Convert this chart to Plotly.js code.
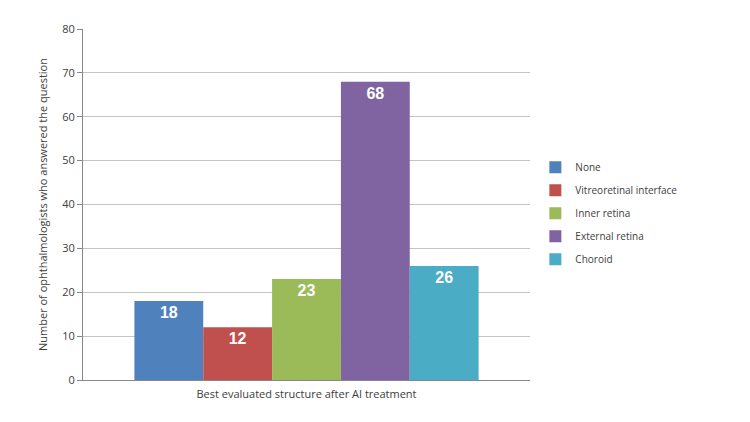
<!DOCTYPE html>
<html><head><meta charset="utf-8">
<script src="https://cdn.plot.ly/plotly-3.0.1.min.js"></script>
<style>html,body{margin:0;padding:0;background:#fff}</style>
</head><body>
<div id="chart" style="width:750px;height:422px"></div>
<script>
const category = ["Best evaluated structure after AI treatment"];
const seriesNames = ["None", "Vitreoretinal interface", "Inner retina", "External retina", "Choroid"];
const seriesValues = [18, 12, 23, 68, 26];
const seriesColors = ["#4F81BD", "#C0504D", "#9BBB59", "#8064A2", "#4BACC6"];
const yTicks = [0, 10, 20, 30, 40, 50, 60, 70, 80];

const traces = seriesNames.map((name, i) => ({
  type: "bar",
  name: name,
  legendgroup: "g" + i,
  x: category,
  y: [seriesValues[i]],
  text: [String(seriesValues[i])],
  textposition: "inside",
  insidetextanchor: "end",
  textfont: {family: "Liberation Sans, Arial, sans-serif", size: 16, color: "#ffffff", weight: "bold"},
  marker: {color: seriesColors[i], line: {width: 0}},
  hoverinfo: "none"
}));

const layout = {
  width: 750, height: 422,
  margin: {l: 83, r: 220, t: 29, b: 42},
  paper_bgcolor: "#ffffff", plot_bgcolor: "#ffffff",
  barmode: "group", bargap: 0.23, bargroupgap: 0,
  font: {family: "Open Sans, sans-serif", size: 11, color: "#404040"},
  showlegend: true,
  legend: {x: 1.012, y: 0.475, xanchor: "left", yanchor: "middle",
           font: {size: 10, color: "#404040"}, tracegroupgap: 4, itemwidth: 30,
           bgcolor: "rgba(0,0,0,0)"},
  xaxis: {type: "category", showline: true, linecolor: "#888888", linewidth: 1,
          ticks: "", showgrid: false, tickfont: {size: 11, color: "#404040"}, ticklabelstandoff: 4},
  yaxis: {range: [0, 80], tickvals: yTicks, showline: true, linecolor: "#888888", linewidth: 1,
          ticks: "outside", ticklen: 5, tickcolor: "#888888",
          gridcolor: "#c4c4c4", gridwidth: 1, zeroline: false,
          tickfont: {size: 11, color: "#404040"},
          title: {text: "Number of ophthalmologists who answered the question", font: {size: 11, color: "#404040"}, standoff: 12}}
};

Plotly.newPlot("chart", traces, layout, {displayModeBar: false, staticPlot: true});
</script>
</body></html>
